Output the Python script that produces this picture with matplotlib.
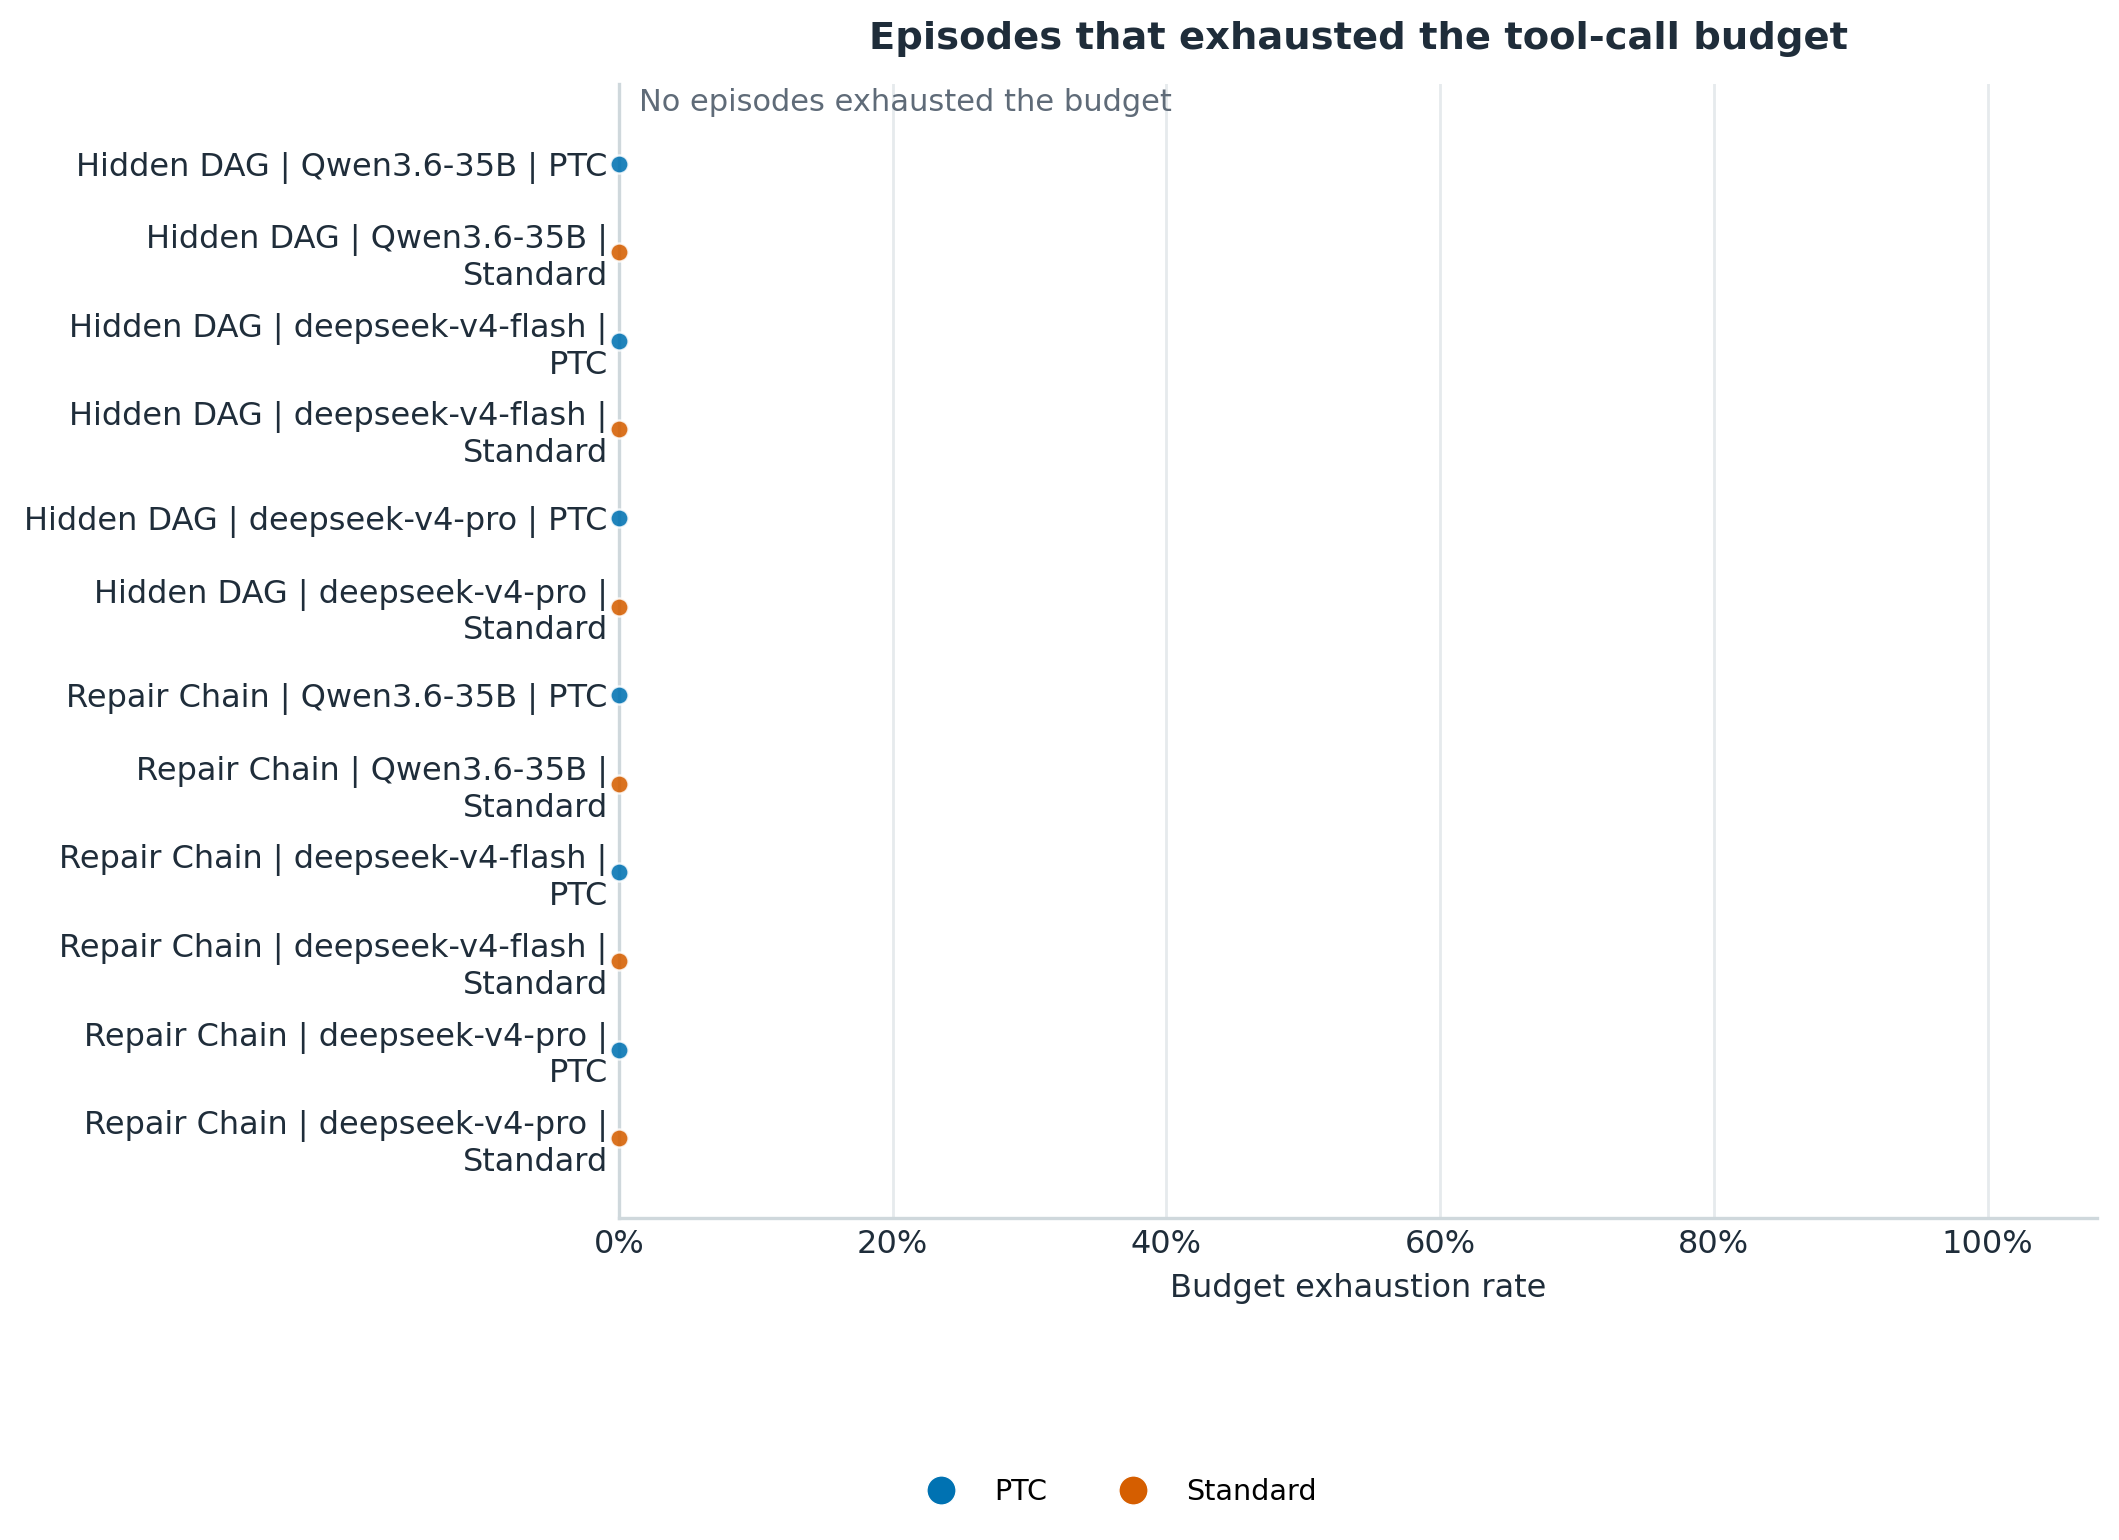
import textwrap
import matplotlib
matplotlib.use("Agg")
import matplotlib.pyplot as plt
from matplotlib.ticker import PercentFormatter
from matplotlib.lines import Line2D

# ---------------- DATA ---------------- #
benchmarks = ["Hidden DAG"] * 6 + ["Repair Chain"] * 6
models = ["Qwen3.6-35B", "Qwen3.6-35B", "deepseek-v4-flash", "deepseek-v4-flash",
          "deepseek-v4-pro", "deepseek-v4-pro"] * 2
modes = ["PTC", "Standard"] * 6
exhaustion_rate = [0.0, 0.0, 0.0, 0.0, 0.0, 0.0,
                   0.0, 0.0, 0.0, 0.0, 0.0, 0.0]
x_ticks = [0.0, 0.2, 0.4, 0.6, 0.8, 1.0]

mode_colors = {"PTC": "#0072B2", "Standard": "#D55E00"}
dark = "#1f2d3a"

labels = [textwrap.fill(f"{b} | {m} | {s}", width=34)
          for b, m, s in zip(benchmarks, models, modes)]

# ---------------- PLOT ---------------- #
plt.rcParams['font.family'] = ['DejaVu Sans']

fig = plt.figure(figsize=(10.595, 7.7), dpi=200)
ax = fig.add_axes([0.2921, 0.2091, 0.6976, 0.7364])

ypos = list(range(len(labels)))
for y, rate, mode in zip(ypos, exhaustion_rate, modes):
    ax.scatter(rate, y, s=42, color=mode_colors[mode], alpha=0.88,
               edgecolor="white", linewidth=0.8, zorder=5, clip_on=False)

ax.set_yticks(ypos)
ax.set_yticklabels(labels, fontsize=11.5, color=dark)
ax.set_ylim(11.9, -0.9)

ax.set_xlim(0, 1.08)
ax.set_xticks(x_ticks)
ax.xaxis.set_major_formatter(PercentFormatter(1.0, decimals=0))
ax.tick_params(axis="x", labelsize=11.5, colors=dark, length=0, pad=3.8)
ax.tick_params(axis="y", length=0, pad=4)
ax.grid(axis="x", color="#e6eaed", linewidth=1.0)
ax.set_axisbelow(True)

for side in ["top", "right"]:
    ax.spines[side].set_visible(False)
for side in ["left", "bottom"]:
    ax.spines[side].set_color("#cfd8dc")
    ax.spines[side].set_linewidth(1.2)

ax.set_xlabel("Budget exhaustion rate", fontsize=11.5, color=dark, labelpad=5)
ax.set_title("Episodes that exhausted the tool-call budget", fontsize=13.85,
             fontweight="bold", color=dark, pad=12.5)

ax.text(0.0135, 0.996, "No episodes exhausted the budget", transform=ax.transAxes,
        ha="left", va="top", fontsize=11, color="#5f6b78")

handles = [Line2D([], [], marker="o", linestyle="", markersize=10.5,
                  color=mode_colors[m], markeredgecolor="white",
                  markeredgewidth=0.5, label=m) for m in ["PTC", "Standard"]]
fig.legend(handles=handles, loc="center", bbox_to_anchor=(0.526, 0.031), ncol=2,
           frameon=False, fontsize=10.3, handletextpad=0.85, columnspacing=2.0)

fig.savefig("out.png", dpi=200, facecolor="white")
